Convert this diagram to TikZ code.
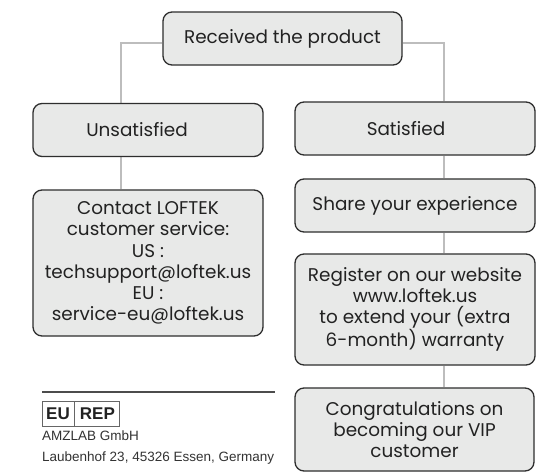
\documentclass[tikz,border=0pt]{standalone}
\usepackage{fontspec}
\setmainfont{Poppins}
\newfontfamily\footfont{Liberation Sans}
\usetikzlibrary{backgrounds}
\definecolor{boxfill}{HTML}{E8E9E8}
\definecolor{boxline}{HTML}{2E2E2E}
\definecolor{conn}{HTML}{BDBDBD}
\definecolor{txt}{HTML}{222222}
\tikzset{
  flowbox/.style={draw=boxline, line width=1.3pt, fill=boxfill, rounded corners=9pt,
    align=center, text=txt, font=\fontsize{18.4}{21.3}\selectfont, inner sep=0pt},
  flowtext/.style={align=center, text=txt, font=\fontsize{18.4}{21.3}\selectfont, inner sep=0pt},
  link/.style={draw=conn, line width=2pt},
  repbox/.style={draw=black!60, line width=0.9pt, minimum height=25pt, inner sep=0pt,
    font=\footfont\bfseries\fontsize{17}{17}\selectfont, text=txt},
}
\begin{document}
\begin{tikzpicture}[x=1pt,y=-1pt]
\useasboundingbox (0,0) rectangle (536,472);
\node[flowbox, minimum width=239pt, minimum height=53pt] (rec) at (282.5,38.5) {Received the product};
\node[flowbox, minimum width=230pt, minimum height=53pt] (uns) at (148,130) {};
\node[flowtext] (unst) at ([xshift=-11pt]uns.center) {Unsatisfied};
\node[flowbox, minimum width=240pt, minimum height=53pt] (sat) at (415,128.5) {};
\node[flowtext] (satt) at ([xshift=-9pt]sat.center) {Satisfied};
\node[flowbox, minimum width=230pt, minimum height=146pt] (con) at (148,263) {Contact LOFTEK\\customer service:\\US :\\techsupport@loftek.us\\EU :\\service-eu@loftek.us};
\node[flowbox, minimum width=240pt, minimum height=53pt] (sha) at (415,205.5) {Share your experience};
\node[flowbox, minimum width=240pt, minimum height=111pt] (reg) at (415,309.5) {Register on our website\\www.loftek.us\\to extend your (extra\\6-month) warranty};
\node[flowbox, minimum width=239pt, minimum height=83pt] (vip) at (414.5,429.5) {Congratulations on\\becoming our VIP\\customer};
\begin{scope}[on background layer]
\fill[white] (0,0) rectangle (536,472);
\draw[link] ([yshift=-4.5pt]rec.west) -| ([xshift=-27pt]uns.north);
\draw[link] ([yshift=-4.5pt]rec.east) -| ([xshift=29pt]sat.north);
\draw[link] ([xshift=-27pt]uns.south) -- ([xshift=-27pt]con.north);
\draw[link] ([xshift=29pt]sat.south) -- ([xshift=29pt]sha.north);
\draw[link] ([xshift=29pt]sha.south) -- ([xshift=29pt]reg.north);
\draw[link] ([xshift=29pt]reg.south) -- ([xshift=29.5pt]vip.north);
\end{scope}
% footer
\coordinate (fl) at (42,392);
\coordinate (fr) at (275,392);
\draw[draw=black!70, line width=1.1pt] (fl) -- (fr);
\node[repbox, minimum width=32pt] (eu) at (58,413.5) {EU};
\node[repbox, minimum width=45pt, anchor=west] (rep) at (eu.east) {REP};
\node[anchor=west, inner sep=0pt, font=\footfont\fontsize{13.5}{21}\selectfont, text=black!80, align=left] (addr) at (42,447.5) {AMZLAB GmbH\\Laubenhof 23, 45326 Essen, Germany};
\end{tikzpicture}
\end{document}
